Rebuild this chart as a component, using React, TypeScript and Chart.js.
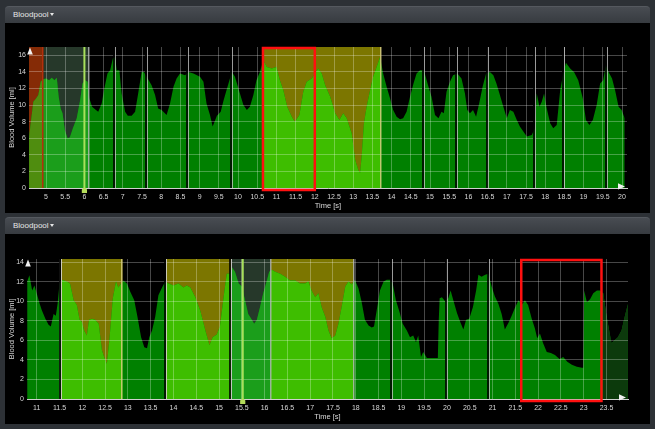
import React, { useEffect, useRef } from "react";
import { Chart, registerables } from "chart.js";

Chart.register(...registerables);

const FONT = '"Liberation Sans", Arial, Helvetica, sans-serif';

// ---------------- Top chart data ----------------
const topTime = [
  4.56, 4.62, 4.67, 4.74, 4.8, 4.86, 4.92, 5.0, 5.08, 5.15,
  5.22, 5.28, 5.33, 5.38, 5.43, 5.49, 5.56, 5.62, 5.7, 5.8,
  5.89, 5.95, 6.02, 6.08, 6.13, 6.2, 6.3, 6.36, 6.45, 6.51,
  6.6, 6.67, 6.74, 6.8, 6.84, 6.91, 6.97, 7.06, 7.13, 7.23,
  7.32, 7.4, 7.49, 7.55, 7.62, 7.75, 7.84, 7.92, 8.01, 8.14,
  8.23, 8.32, 8.4, 8.49, 8.62, 8.71, 8.84, 9.01, 9.1, 9.18,
  9.27, 9.34, 9.45, 9.55, 9.62, 9.7, 9.84, 9.92, 10.05, 10.14,
  10.23, 10.31, 10.4, 10.48, 10.57, 10.66, 10.75, 10.88, 11.0, 11.09,
  11.18, 11.28, 11.4, 11.48, 11.6, 11.7, 11.79, 11.92, 12.0, 12.09,
  12.18, 12.27, 12.4, 12.53, 12.64, 12.74, 12.83, 12.96, 13.05, 13.13,
  13.18, 13.22, 13.28, 13.35, 13.44, 13.52, 13.61, 13.7, 13.78, 13.87,
  13.96, 14.04, 14.13, 14.22, 14.3, 14.39, 14.48, 14.57, 14.65, 14.74,
  14.84, 14.96, 15.04, 15.13, 15.22, 15.3, 15.36, 15.43, 15.52, 15.6,
  15.71, 15.82, 15.91, 15.97, 16.04, 16.12, 16.2, 16.28, 16.37, 16.46,
  16.56, 16.65, 16.73, 16.82, 16.91, 17.0, 17.08, 17.17, 17.26, 17.34,
  17.43, 17.52, 17.65, 17.73, 17.78, 17.85, 17.91, 17.97, 18.04, 18.13,
  18.21, 18.3, 18.39, 18.47, 18.54, 18.65, 18.75, 18.86, 18.98, 19.06,
  19.15, 19.24, 19.34, 19.43, 19.51, 19.58, 19.65, 19.74, 19.82, 19.91,
  19.99, 20.07,
];
const topVolume = [
  6.2, 8.5, 10.4, 10.8, 11.2, 12.8, 13.1, 13.2, 13.0, 13.3,
  13.0, 13.3, 11.0, 9.6, 9.0, 7.0, 6.0, 6.1, 7.2, 8.4,
  10.6, 12.6, 13.0, 12.8, 10.8, 9.8, 9.4, 9.2, 10.2, 11.8,
  13.8, 14.2, 15.6, 15.8, 14.2, 14.2, 11.4, 9.2, 8.7, 8.7,
  9.2, 11.4, 14.0, 14.0, 13.4, 12.4, 11.2, 9.6, 9.4, 8.8,
  10.2, 12.2, 13.2, 13.8, 13.6, 14.0, 13.8, 13.4, 12.8, 10.2,
  8.8, 7.4, 8.7, 9.2, 10.5, 11.8, 14.0, 13.4, 11.4, 10.0,
  9.4, 9.8, 11.2, 13.0, 14.0, 15.4, 14.6, 14.4, 14.6, 13.0,
  11.8, 9.8, 8.6, 8.0, 8.8, 11.6, 12.8, 13.2, 13.8, 14.4,
  13.8, 12.4, 11.0, 9.0, 8.2, 9.0, 8.4, 6.6, 3.4, 2.2,
  1.8, 3.8, 7.8, 9.8, 11.8, 13.4, 14.6, 15.8, 13.8, 12.2,
  10.8, 9.4, 8.6, 8.3, 8.4, 9.2, 11.0, 12.6, 13.8, 14.2,
  14.2, 12.2, 11.0, 8.8, 8.4, 9.2, 9.0, 11.6, 12.8, 13.6,
  13.8, 13.2, 11.4, 9.4, 9.0, 9.4, 8.6, 10.2, 12.2, 13.8,
  14.0, 13.6, 12.6, 11.2, 9.8, 8.4, 9.4, 9.2, 8.2, 7.4,
  6.8, 6.2, 6.4, 7.2, 11.4, 9.8, 10.4, 11.4, 9.6, 7.8,
  7.2, 7.6, 11.8, 13.8, 15.1, 14.4, 14.0, 13.0, 10.8, 8.2,
  7.6, 8.2, 10.0, 12.6, 13.0, 14.8, 14.0, 13.2, 11.8, 9.8,
  9.4, 8.4,
];
const topXRange = [4.557, 20.13];
const topYMax = 17;
const topBeats = [6.8, 7.64, 8.71, 9.84, 14.84, 15.7, 16.52, 17.74, 18.5, 19.6];
const topCursor = 6.0;
const topHighlight = [10.65, 12.0];

// ---------------- Bottom chart data ----------------
const bottomTime = [
  10.79, 10.84, 10.9, 10.95, 11.0, 11.06, 11.11, 11.19, 11.26, 11.31,
  11.37, 11.42, 11.46, 11.5, 11.55, 11.66, 11.73, 11.81, 11.88, 11.94,
  11.99, 12.04, 12.1, 12.15, 12.21, 12.28, 12.36, 12.43, 12.48, 12.54,
  12.6, 12.67, 12.74, 12.79, 12.85, 12.9, 12.98, 13.05, 13.14, 13.21,
  13.29, 13.36, 13.42, 13.47, 13.53, 13.6, 13.67, 13.75, 13.82, 13.89,
  14.0, 14.11, 14.22, 14.29, 14.37, 14.48, 14.59, 14.7, 14.79, 14.86,
  14.95, 15.02, 15.1, 15.17, 15.23, 15.28, 15.35, 15.43, 15.5, 15.57,
  15.64, 15.72, 15.77, 15.83, 15.9, 15.97, 16.05, 16.1, 16.16, 16.23,
  16.34, 16.45, 16.56, 16.67, 16.78, 16.89, 16.96, 17.03, 17.11, 17.18,
  17.25, 17.33, 17.4, 17.47, 17.55, 17.62, 17.69, 17.77, 17.84, 17.91,
  17.98, 18.06, 18.13, 18.2, 18.28, 18.35, 18.4, 18.46, 18.53, 18.61,
  18.68, 18.75, 18.81, 18.88, 18.96, 19.03, 19.12, 19.19, 19.26, 19.32,
  19.37, 19.43, 19.48, 19.56, 19.67, 19.8, 19.82, 19.84, 19.89, 19.96,
  20.03, 20.08, 20.14, 20.22, 20.29, 20.36, 20.42, 20.49, 20.57, 20.64,
  20.69, 20.76, 20.84, 20.91, 20.98, 21.05, 21.13, 21.2, 21.27, 21.35,
  21.42, 21.49, 21.57, 21.64, 21.71, 21.78, 21.86, 21.93, 21.98, 22.04,
  22.11, 22.19, 22.28, 22.37, 22.47, 22.55, 22.64, 22.74, 22.85, 22.96,
  22.99, 23.01, 23.07, 23.14, 23.21, 23.29, 23.36, 23.43, 23.5, 23.61,
  23.68, 23.75, 23.83, 23.9, 23.97,
];
const bottomVolume = [
  12.0, 12.65, 11.1, 11.6, 10.8, 9.8, 9.1, 8.2, 7.6, 7.4,
  8.7, 8.5, 9.8, 11.8, 12.2, 12.0, 11.8, 10.1, 9.6, 8.1,
  7.9, 7.0, 6.5, 8.1, 8.2, 8.1, 7.7, 5.0, 4.3, 3.6,
  6.3, 10.3, 12.0, 11.4, 11.8, 12.1, 11.8, 11.0, 10.1, 8.4,
  6.3, 5.3, 5.2, 6.3, 7.0, 8.4, 10.6, 11.4, 12.0, 11.8,
  11.6, 11.8, 11.4, 11.6, 11.4, 10.4, 9.0, 7.0, 5.5, 6.3,
  6.6, 7.4, 10.4, 12.8, 12.8, 13.5, 13.0, 11.8, 11.5, 10.1,
  8.7, 8.1, 7.7, 8.1, 9.4, 10.8, 12.1, 13.0, 13.2, 13.0,
  12.8, 12.5, 12.1, 12.1, 11.8, 11.8, 12.0, 11.1, 10.4, 10.8,
  9.4, 8.4, 7.0, 6.2, 6.5, 7.7, 9.4, 11.5, 12.0, 11.7,
  12.2, 11.3, 9.9, 8.1, 7.5, 7.3, 7.4, 9.1, 11.1, 12.0,
  12.2, 12.2, 11.8, 10.1, 8.9, 7.7, 7.0, 6.3, 6.5, 5.8,
  6.5, 4.3, 4.8, 4.2, 4.2, 4.2, 8.0, 10.3, 10.4, 10.0,
  10.3, 11.1, 10.1, 8.8, 7.9, 7.1, 8.1, 8.2, 9.4, 11.1,
  12.7, 12.5, 12.7, 12.8, 11.5, 10.5, 9.7, 8.7, 7.1, 7.8,
  8.5, 9.3, 10.1, 9.6, 10.1, 9.6, 8.2, 7.2, 6.2, 6.7,
  5.7, 4.8, 4.7, 4.5, 4.1, 4.3, 3.8, 3.5, 3.3, 3.2,
  3.2, 11.1, 9.9, 10.2, 10.8, 11.1, 11.1, 10.8, 8.5, 5.7,
  6.0, 6.3, 7.0, 8.4, 9.7,
];
const bottomXRange = [10.787, 23.972];
const bottomYMax = 14.31;
const bottomBeats = [11.53, 13.84, 15.27, 18.8, 20.0, 20.93];
const bottomCursor = 15.52;
const bottomHighlight = [21.63, 23.39];

// ---------------- Styling ----------------
const YELLOW_BG = "#7c7600";
const YELLOW_FILL = "#3ebe00";
const GRAY_BG = "#26382a";
const GRAY_FILL = "#1b9e1b";
const EDGE_LIGHT = "rgba(215,205,130,0.85)";
const EDGE_GRAY = "rgba(185,185,185,0.8)";

type Region = {
  start: number;
  end: number;
  bg: string | null;
  fill: string | null;
  leftEdge?: string;
  rightEdge?: string;
};

const topRegions: Region[] = [
  { start: topXRange[0], end: 4.93, bg: "#852b06", fill: "#4f8d0f", rightEdge: "#b3300c" },
  { start: 4.93, end: 6.12, bg: GRAY_BG, fill: GRAY_FILL, rightEdge: EDGE_GRAY },
  { start: 10.63, end: 13.72, bg: YELLOW_BG, fill: YELLOW_FILL, rightEdge: EDGE_LIGHT },
];

const bottomRegions: Region[] = [
  { start: 11.53, end: 12.88, bg: YELLOW_BG, fill: YELLOW_FILL, leftEdge: EDGE_LIGHT, rightEdge: EDGE_LIGHT },
  { start: 13.84, end: 15.27, bg: YELLOW_BG, fill: YELLOW_FILL, leftEdge: EDGE_LIGHT },
  { start: 15.27, end: 16.14, bg: GRAY_BG, fill: GRAY_FILL, leftEdge: EDGE_GRAY, rightEdge: EDGE_GRAY },
  { start: 16.14, end: 17.96, bg: YELLOW_BG, fill: YELLOW_FILL, rightEdge: EDGE_GRAY },
  { start: 23.42, end: bottomXRange[1], bg: null, fill: "#0c3a0c" },
];

type Spec = {
  time: number[];
  volume: number[];
  xRange: number[];
  yMax: number;
  yWidth: number;
  padTop: number;
  padRight: number;
  regions: Region[];
  beats: number[];
  cursor: number;
  highlight: number[];
};

const topSpec: Spec = {
  time: topTime,
  volume: topVolume,
  xRange: topXRange,
  yMax: topYMax,
  yWidth: 24,
  padTop: 24,
  padRight: 23,
  regions: topRegions,
  beats: topBeats,
  cursor: topCursor,
  highlight: topHighlight,
};

const bottomSpec: Spec = {
  time: bottomTime,
  volume: bottomVolume,
  xRange: bottomXRange,
  yMax: bottomYMax,
  yWidth: 22,
  padTop: 25,
  padRight: 22,
  regions: bottomRegions,
  beats: bottomBeats,
  cursor: bottomCursor,
  highlight: bottomHighlight,
};

function makeOverlay(spec: Spec) {
  return {
    id: "overlay",
    beforeDatasetsDraw(chart: any) {
      const { ctx, chartArea: ca, scales } = chart;
      const x = scales.x;
      ctx.save();
      for (const r of spec.regions) {
        if (!r.bg) continue;
        const x1 = Math.max(ca.left, x.getPixelForValue(r.start));
        const x2 = Math.min(ca.right, x.getPixelForValue(r.end));
        ctx.fillStyle = r.bg;
        ctx.fillRect(x1, ca.top, x2 - x1, ca.bottom - ca.top);
      }
      ctx.restore();
    },
    afterDatasetsDraw(chart: any) {
      const { ctx, chartArea: ca, scales } = chart;
      const x = scales.x;
      const y = scales.y;
      const pts = chart.getDatasetMeta(0).data;
      if (!pts.length) return;
      const base = y.getPixelForValue(0);
      for (const r of spec.regions) {
        if (!r.fill) continue;
        const x1 = Math.max(ca.left, x.getPixelForValue(r.start));
        const x2 = Math.min(ca.right, x.getPixelForValue(r.end));
        ctx.save();
        ctx.beginPath();
        ctx.rect(x1, ca.top, x2 - x1, ca.bottom - ca.top);
        ctx.clip();
        ctx.beginPath();
        ctx.moveTo(pts[0].x, base);
        for (const p of pts) ctx.lineTo(p.x, p.y);
        ctx.lineTo(pts[pts.length - 1].x, base);
        ctx.closePath();
        ctx.fillStyle = r.fill;
        ctx.fill();
        ctx.restore();
      }
    },
    afterDraw(chart: any) {
      const { ctx, chartArea: ca, scales } = chart;
      const x = scales.x;
      const y = scales.y;
      const base = y.getPixelForValue(0);
      const h = base - ca.top;
      ctx.save();
      // region edges
      for (const r of spec.regions) {
        if (r.leftEdge) {
          ctx.fillStyle = r.leftEdge;
          ctx.fillRect(Math.round(x.getPixelForValue(r.start)), ca.top, 1, h);
        }
        if (r.rightEdge) {
          ctx.fillStyle = r.rightEdge;
          ctx.fillRect(Math.round(x.getPixelForValue(r.end)) - 1, ca.top, 1.5, h);
        }
      }
      // beat markers
      for (const b of spec.beats) {
        const px = Math.round(x.getPixelForValue(b));
        ctx.fillStyle = "rgba(0,0,0,0.8)";
        ctx.fillRect(px - 2, ca.top, 2, h);
        ctx.fillStyle = "rgba(205,205,205,0.75)";
        ctx.fillRect(px, ca.top, 1, h);
      }
      // cursor line
      const cx = x.getPixelForValue(spec.cursor);
      ctx.fillStyle = "#a8e05c";
      ctx.fillRect(cx - 1, ca.top, 2, h);
      // highlight rectangle
      const hx1 = x.getPixelForValue(spec.highlight[0]);
      const hx2 = x.getPixelForValue(spec.highlight[1]);
      ctx.strokeStyle = "#ff1010";
      ctx.lineWidth = 2.5;
      ctx.strokeRect(hx1, ca.top + 1, hx2 - hx1, base + 2 - ca.top - 1);
      // y axis arrow
      ctx.fillStyle = "#f0f0f0";
      const ax = ca.left + 1;
      ctx.beginPath();
      ctx.moveTo(ax, ca.top + 0.5);
      ctx.lineTo(ax + 2.8, ca.top + 7.5);
      ctx.lineTo(ax - 2.8, ca.top + 7.5);
      ctx.closePath();
      ctx.fill();
      // x axis arrow
      const tip = ca.right - 2;
      ctx.beginPath();
      ctx.moveTo(tip, base - 1.5);
      ctx.lineTo(tip - 7, base - 4.8);
      ctx.lineTo(tip - 7, base + 1.5);
      ctx.closePath();
      ctx.fill();
      // cursor marker on axis
      ctx.fillStyle = "#b4dc5a";
      ctx.beginPath();
      ctx.moveTo(cx, base - 1);
      ctx.lineTo(cx + 2.6, base + 1.5);
      ctx.lineTo(cx + 2.6, base + 5);
      ctx.lineTo(cx - 2.6, base + 5);
      ctx.lineTo(cx - 2.6, base + 1.5);
      ctx.closePath();
      ctx.fill();
      ctx.restore();
    },
  };
}

const GRID = "rgba(255,255,255,0.28)";
const TEXT = "#d8d8d8";

function buildConfig(spec: Spec): any {
  return {
    type: "line",
    data: {
      datasets: [
        {
          data: spec.time.map((t, i) => ({ x: t, y: spec.volume[i] })),
          fill: "origin",
          backgroundColor: "#008000",
          borderColor: "rgba(0,0,0,0)",
          borderWidth: 0,
          pointRadius: 0,
          tension: 0,
        },
      ],
    },
    options: {
      animation: false,
      responsive: false,
      events: [],
      layout: { padding: { top: spec.padTop, right: spec.padRight, left: 0, bottom: 0 } },
      plugins: { legend: { display: false }, tooltip: { enabled: false } },
      scales: {
        x: {
          type: "linear",
          min: spec.xRange[0],
          max: spec.xRange[1],
          afterFit: (s: any) => {
            s.height = 25;
          },
          grid: { color: GRID, lineWidth: 1, drawTicks: false, z: 1 },
          border: { display: true, color: "#d0d0d0", width: 1, z: 2 },
          ticks: {
            stepSize: 0.5,
            includeBounds: false,
            autoSkip: false,
            maxRotation: 0,
            padding: 5,
            color: TEXT,
            font: { size: 7, family: FONT },
            callback: (v: any) => String(Math.round(Number(v) * 100) / 100),
          },
          title: {
            display: true,
            text: "Time [s]",
            color: TEXT,
            font: { size: 7.5, family: FONT },
            padding: { top: 0, bottom: 2.5 },
          },
        },
        y: {
          type: "linear",
          min: 0,
          max: spec.yMax,
          afterFit: (s: any) => {
            s.width = spec.yWidth;
          },
          grid: { color: GRID, lineWidth: 1, drawTicks: false, z: 1 },
          border: { display: false },
          ticks: {
            stepSize: 2,
            includeBounds: false,
            padding: 3,
            color: TEXT,
            font: { size: 7, family: FONT },
            callback: (v: any) => String(Math.round(Number(v) * 100) / 100),
          },
          title: {
            display: true,
            text: "Blood Volume [ml]",
            color: TEXT,
            font: { size: 7.5, family: FONT },
            padding: { top: 2.5, bottom: 0 },
          },
        },
      },
    },
    plugins: [makeOverlay(spec)],
  };
}

function ChartCanvas({ spec, top }: { spec: Spec; top: number }) {
  const ref = useRef<HTMLCanvasElement>(null);
  useEffect(() => {
    if (!ref.current) return;
    const chart = new Chart(ref.current, buildConfig(spec));
    return () => chart.destroy();
  }, [spec]);
  return (
    <canvas
      ref={ref}
      width={645}
      height={190}
      style={{ position: "absolute", left: 5, top, width: 645, height: 190, background: "#000", display: "block" }}
    />
  );
}

function Header({ top }: { top: number }) {
  return (
    <div
      style={{
        position: "absolute",
        left: 5,
        top,
        width: 645,
        height: 17,
        boxSizing: "border-box",
        background: "linear-gradient(#484c52, #373b40)",
        borderTop: "1px solid #55595f",
        borderRadius: "4px 4px 0 0",
        color: "#e6e6e6",
        fontFamily: FONT,
        fontSize: 8,
        lineHeight: "15px",
        paddingLeft: 8,
        whiteSpace: "nowrap",
      }}
    >
      Bloodpool
      <span
        style={{
          display: "inline-block",
          width: 0,
          height: 0,
          marginLeft: 1,
          verticalAlign: "middle",
          borderLeft: "2.5px solid transparent",
          borderRight: "2.5px solid transparent",
          borderTop: "3px solid #e6e6e6",
        }}
      />
    </div>
  );
}

export default function App() {
  return (
    <div
      style={{
        position: "fixed",
        left: 0,
        top: 0,
        width: 655,
        height: 429,
        background: "#2d3136",
        overflow: "hidden",
      }}
    >
      <Header top={6} />
      <ChartCanvas spec={topSpec} top={23} />
      <Header top={217} />
      <ChartCanvas spec={bottomSpec} top={234} />
    </div>
  );
}
